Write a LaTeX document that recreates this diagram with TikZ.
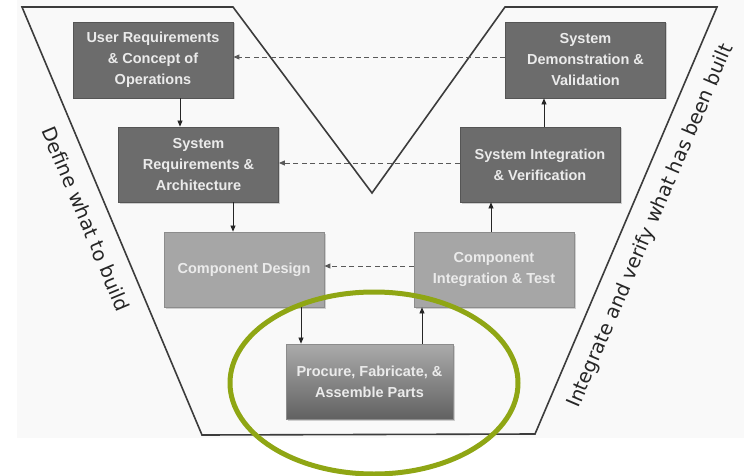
\documentclass[tikz,border=0pt]{standalone}
\usepackage{fontspec}
\setmainfont{Liberation Sans}
\newfontfamily\sidefont{DejaVu Sans}
\usetikzlibrary{arrows.meta,shadows}
\definecolor{darkbox}{HTML}{6C6C6C}
\definecolor{darkedge}{HTML}{555555}
\definecolor{lightbox}{HTML}{A6A6A6}
\definecolor{lightedge}{HTML}{8C8C8C}
\definecolor{labeltext}{HTML}{EBEBEB}
\definecolor{frame}{HTML}{3C3C3C}
\definecolor{olive}{HTML}{8FA614}
\definecolor{paper}{HTML}{F9F9F9}
\tikzset{
  box/.style={rectangle, inner sep=0pt, minimum width=160pt, minimum height=75pt,
    align=center, text=labeltext, line width=0.8pt,
    font=\fontsize{14.5}{21}\selectfont\bfseries,
    drop shadow={opacity=0.35, shadow xshift=1.5pt, shadow yshift=-1.5pt}},
  darkb/.style={box, fill=darkbox, draw=darkedge},
  lightb/.style={box, fill=lightbox, draw=lightedge},
  arr/.style={-{Triangle[length=6pt,width=5pt]}, line width=0.7pt, black!85},
  back/.style={arr, dash pattern=on 5pt off 3.5pt, line width=0.9pt, draw=black!65},
  sidetext/.style={font=\sidefont\fontsize{19.5}{22}\selectfont, text=black!85}
}
\begin{document}
\begin{tikzpicture}[x=1pt,y=-1pt]
\useasboundingbox (0,0) rectangle (744,476);
\fill[paper] (17,0) rectangle (744,438);

% V-shaped frame
\draw[frame, line width=1.6pt, line join=miter]
  (22,7) -- (233,7) -- (372,193) -- (505,7) -- (717,7) -- (535,434) -- (202,435) -- cycle;

% left leg: definition
\node[darkb, minimum height=76pt] (ur) at (153,60) {User Requirements\\\& Concept of\\Operations};
\node[darkb] (sr) at (198.5,164.5) {System\\Requirements \&\\Architecture};
\node[lightb] (cd) at (244,269.5) {Component Design};
\node[box, minimum width=167pt, draw=lightedge, top color=lightbox!95!white, bottom color=darkbox!90!black] (pr) at (369.5,381.5) {Procure, Fabricate, \&\\Assemble Parts};

% right leg: integration and verification
\node[lightb] (cit) at (494,269.5) {Component\\Integration \& Test};
\node[darkb] (siv) at (540,164.5) {System Integration\\\& Verification};
\node[darkb, minimum height=76pt] (sdv) at (585.5,60) {System\\Demonstration \&\\Validation};

% downward flow
\path ([xshift=27pt]ur.south) coordinate (a1);
\draw[arr] (a1) -- (a1 |- sr.north);
\path ([xshift=34.5pt]sr.south) coordinate (a2);
\draw[arr] (a2) -- (a2 |- cd.north);
\path ([xshift=57pt]cd.south) coordinate (a3);
\draw[arr] (a3) -- (a3 |- pr.north);

% upward flow
\path ([xshift=52.5pt]pr.north) coordinate (b1);
\draw[arr] (b1) -- (b1 |- cit.south);
\path ([xshift=-3pt]cit.north) coordinate (b2);
\draw[arr] (b2) -- (b2 |- siv.south);
\path ([xshift=4pt]siv.north) coordinate (b3);
\draw[arr] (b3) -- (b3 |- sdv.south);

% verification links back to definition
\path ([yshift=3pt]sdv.west) coordinate (c1);
\draw[back] (c1) -- (c1 -| ur.east);
\path ([yshift=1.5pt]siv.west) coordinate (c2);
\draw[back] (c2) -- (c2 -| sr.east);
\path ([yshift=3.5pt]cit.west) coordinate (c3);
\draw[back] (c3) -- (c3 -| cd.east);

% side captions
\node[sidetext, rotate=-67.2] (def) at (86,219) {Define what to build};
\node[sidetext, rotate=66.9] (ver) at (651,226) {Integrate and verify what has been built};

% highlight around the build step
\draw[olive, line width=5pt] (374,383) ellipse [x radius=144, y radius=91];
\end{tikzpicture}
\end{document}
